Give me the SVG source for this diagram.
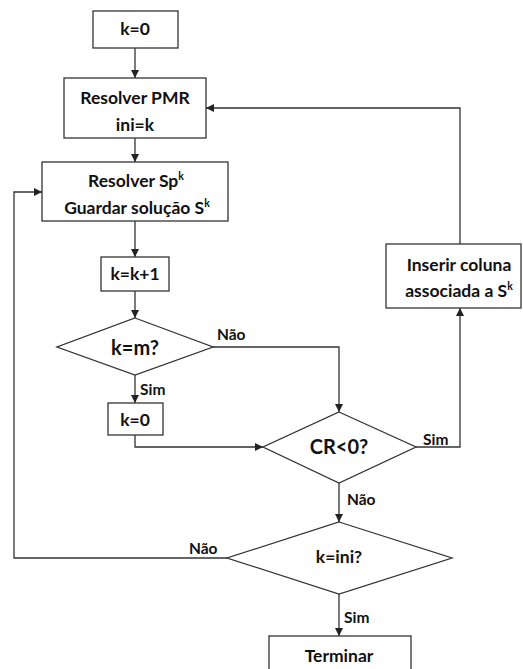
<svg xmlns="http://www.w3.org/2000/svg" width="523" height="669" viewBox="0 0 523 669">
  <style>
    .box { fill: #ffffff; stroke: #333333; stroke-width: 1.3; }
    .line { fill: none; stroke: #333333; stroke-width: 1.3; }
    text { font-family: Lato, "Liberation Sans", sans-serif; font-weight: bold; fill: #111111; }
    .t { font-size: 17.5px; text-anchor: middle; }
    .big { font-size: 20px; text-anchor: middle; }
    .lbl { font-size: 15.5px; }
    .sup { font-size: 10.5px; }
  </style>
  <defs>
    <marker id="arrow" viewBox="0 0 10 10" refX="10" refY="5" markerWidth="8" markerHeight="8" markerUnits="userSpaceOnUse" orient="auto">
      <path d="M0,0 L10,5 L0,10 Z" fill="#222222"/>
    </marker>
  </defs>
  <rect width="523" height="669" fill="#ffffff"/>

  <g id="connectors">
    <path class="line" marker-end="url(#arrow)" d="M135,48 L135,78"/>
    <path class="line" marker-end="url(#arrow)" d="M135,138 L135,162"/>
    <path class="line" marker-end="url(#arrow)" d="M135,221 L135,257"/>
    <path class="line" marker-end="url(#arrow)" d="M135,291 L135,318"/>
    <path class="line" marker-end="url(#arrow)" d="M135,375 L135,403"/>
    <path class="line" marker-end="url(#arrow)" d="M213,347 L339,347 L339,412"/>
    <path class="line" marker-end="url(#arrow)" d="M135,435 L135,447 L263,447"/>
    <path class="line" marker-end="url(#arrow)" d="M416,447 L460,447 L460,308"/>
    <path class="line" marker-end="url(#arrow)" d="M460,244 L460,108 L206,108"/>
    <path class="line" marker-end="url(#arrow)" d="M339,483 L339,522"/>
    <path class="line" marker-end="url(#arrow)" d="M227,558 L14,558 L14,192 L42,192"/>
    <path class="line" marker-end="url(#arrow)" d="M339,594 L339,636"/>
    <text class="lbl" x="217" y="340">Não</text>
    <text class="lbl" x="140" y="395">Sim</text>
    <text class="lbl" x="423" y="445">Sim</text>
    <text class="lbl" x="347" y="505">Não</text>
    <text class="lbl" x="189" y="554">Não</text>
    <text class="lbl" x="344" y="623">Sim</text>
  </g>

  <g id="start">
    <rect class="box" x="93" y="11" width="85" height="37"/>
    <text class="t" x="135" y="35">k=0</text>
  </g>

  <g id="solve-pmr">
    <rect class="box" x="64" y="78" width="142" height="60"/>
    <text class="t" x="135" y="104">Resolver PMR</text>
    <text class="t" x="135" y="131">ini=k</text>
  </g>

  <g id="solve-sp">
    <rect class="box" x="42" y="162" width="186" height="59"/>
    <text class="t" x="136" y="187">Resolver Sp<tspan class="sup" dy="-7">k</tspan></text>
    <text class="t" x="137" y="214">Guardar solução S<tspan class="sup" dy="-7">k</tspan></text>
  </g>

  <g id="increment">
    <rect class="box" x="101" y="257" width="68" height="34"/>
    <text class="t" x="135" y="280">k=k+1</text>
  </g>

  <g id="test-m">
    <polygon class="box" points="135,318 213,347 135,375 57,347"/>
    <text class="big" x="135" y="355">k=m?</text>
  </g>

  <g id="reset">
    <rect class="box" x="108" y="403" width="55" height="32"/>
    <text class="t" x="135" y="426">k=0</text>
  </g>

  <g id="test-cr">
    <polygon class="box" points="339,412 416,447 339,483 263,447"/>
    <text class="big" x="339" y="454">CR&lt;0?</text>
  </g>

  <g id="insert-column">
    <rect class="box" x="386" y="244" width="135" height="64"/>
    <text class="t" x="459" y="271">Inserir coluna</text>
    <text class="t" x="459" y="297">associada a S<tspan class="sup" dy="-7">k</tspan></text>
  </g>

  <g id="test-ini">
    <polygon class="box" points="339,522 452,558 339,594 227,558"/>
    <text class="t" x="339" y="563">k=ini?</text>
  </g>

  <g id="finish">
    <rect class="box" x="269" y="636" width="142" height="60"/>
    <text class="t" x="339" y="662">Terminar</text>
  </g>
</svg>
